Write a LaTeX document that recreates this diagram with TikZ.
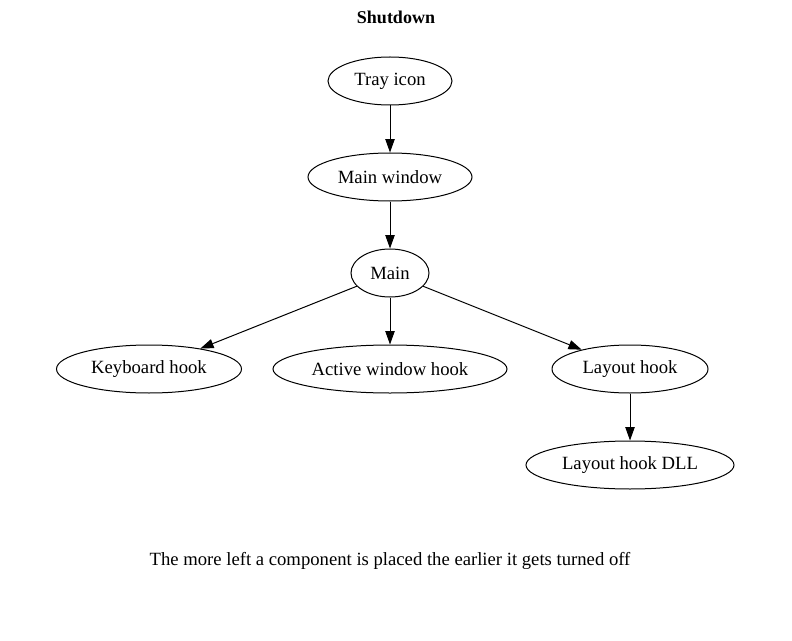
\documentclass[tikz,border=0pt]{standalone}
\usepackage{fontspec}
\setmainfont{Liberation Serif}
\usepackage{tikz}
\usetikzlibrary{shapes.geometric, arrows.meta}

\tikzset{
    comp/.style={draw, ellipse, line width=1bp, inner sep=0pt, minimum height=48bp, font=\fontsize{18.67bp}{21bp}\selectfont},
    link/.style={line width=1bp, -{Triangle[length=13.3bp, width=9.3bp]}}
}

\begin{document}
\begin{tikzpicture}[x=1bp, y=-1bp]
    % Fix the page size
    \useasboundingbox (0,0) rectangle (792,641);

    % Title
    \node[font=\bfseries\fontsize{18bp}{20bp}\selectfont] (title) at (396,17) {Shutdown};

    % Define the components
    \node[comp, minimum width=124bp] (tray) at (390,81) {Tray icon};
    \node[comp, minimum width=164bp] (mainwin) at (390,177) {Main window};
    \node[comp, minimum width=78bp] (main) at (390,273) {Main};
    \node[comp, minimum width=185bp] (kbd) at (149,369) {Keyboard hook};
    \node[comp, minimum width=234bp] (active) at (390,369) {Active window hook};
    \node[comp, minimum width=156bp] (layout) at (630,369) {Layout hook};
    \node[comp, minimum width=208bp] (dll) at (630,465) {Layout hook DLL};

    % Draw the shutdown order
    \draw[link] (tray) -- (mainwin);
    \draw[link] (mainwin) -- (main);
    \draw[link] (main) -- (kbd);
    \draw[link] (main) -- (active);
    \draw[link] (main) -- (layout);
    \draw[link] (layout) -- (dll);

    % Caption
    \node[font=\fontsize{18.67bp}{21bp}\selectfont] (caption) at (390,561) {The more left a component is placed the earlier it gets turned off};
\end{tikzpicture}
\end{document}
